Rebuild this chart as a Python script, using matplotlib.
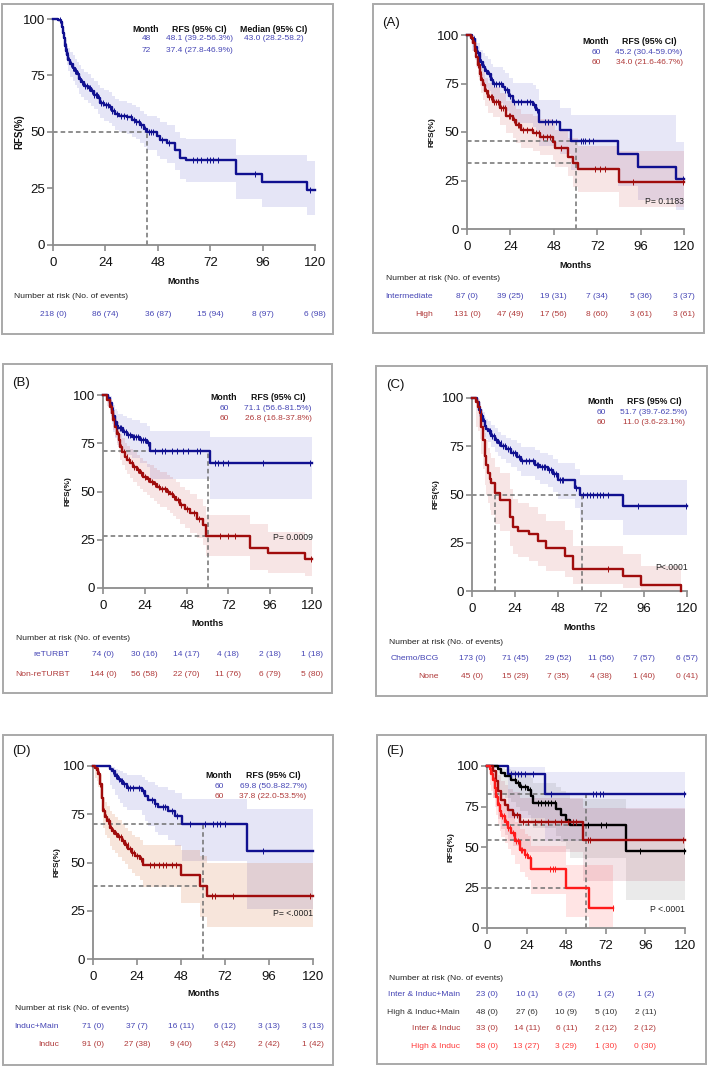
import numpy as np
import matplotlib
matplotlib.use("Agg")
import matplotlib.pyplot as plt
from matplotlib.patches import Rectangle
from matplotlib import transforms

W, H = 709, 1067
plt.rcParams['font.family'] = ['Liberation Sans', 'DejaVu Sans']

MONTH_TICKS = [0, 24, 48, 72, 96, 120]
RFS_TICKS = [0, 25, 50, 75, 100]

# ---------------- Overall ----------------
all_t = [0, 2.5, 3.5, 4.0, 4.5, 5.0, 5.5, 6.0, 6.5, 7.0, 8.0, 9.0, 10.0, 11.0, 12.0, 13.0, 14.0, 16.0, 17.5, 19.0,
         20.5, 21.5, 23.5, 25.5, 27.0, 28.5, 30.0, 34.0, 36.0, 38.0, 40.0, 41.5, 43.0, 47.5, 49.0, 52.0, 56.0, 58.0,
         61.0, 84.0, 95.5, 116.5]
all_s = [100, 99.5, 98.5, 96.5, 94, 91.5, 88, 86, 84, 82, 80, 78.5, 77, 75.5, 73.5, 72, 70.5, 69.5, 68, 66.5,
         65, 63, 62, 61, 59.5, 58, 57, 56.5, 55.5, 54.5, 53, 51.5, 50, 48.1, 46.5, 45, 42, 38.5,
         37.4, 31.2, 27.7, 24.2]
all_lo = [100, 98.5, 96.5, 94, 91, 88, 84, 82, 79.5, 77, 74.5, 72.5, 71, 69.5, 67, 65.5, 64, 63, 61.5, 60,
          58, 56, 55, 54, 52.5, 51, 50, 49, 48, 47, 45, 43.5, 42, 39.2, 38, 36.5, 33, 29,
          27.8, 20.4, 16.7, 13.3]
all_hi = [100, 100, 99.5, 98.5, 97, 95, 92, 90.5, 89, 87, 85.5, 84, 82.5, 81, 79.5, 78, 76.5, 75.5, 74, 72.5,
          71, 69.5, 68.5, 67.5, 66, 64.5, 63.5, 63, 62, 61, 59.5, 58, 57, 56.3, 54.5, 53, 50, 47.5,
          46.9, 39.8, 39.8, 37.3]
all_cens = [3.2, 4.2, 5.2, 5.8, 6.3, 6.8, 7.5, 8.2, 9, 10, 10.5, 11.5, 12.5, 13.5, 14.5, 15.5, 16.5, 17, 18, 19,
            19.5, 20, 21, 22, 23, 24.5, 25, 26, 27, 28, 29.5, 31, 32.5, 34, 35.5, 37, 38, 39.5, 40.5, 42, 44, 45,
            46, 50, 53, 64.3, 65.8, 68, 70.4, 71.9, 73.4, 75.7, 92.5, 117.7]

# ---------------- (A) ----------------
a_int_t = [0, 3, 4.5, 5.5, 7, 8.8, 10, 11.6, 13, 14.4, 19.9, 20.8, 23, 25.4, 36.5, 38, 40, 51.2, 57.7, 83.5, 94.6, 115.8]
a_int_s = [100, 97.7, 94, 90.5, 86, 83.7, 81.5, 80, 77, 75, 73.4, 71.6, 68.5, 65.6, 64, 61.3, 55.3, 51, 45.2, 38.7, 32.2, 25.8]
a_int_lo = [100, 92, 87, 83, 78, 75, 72.5, 71, 67.5, 65, 63, 61, 57.5, 54.5, 52.5, 49.5, 43, 38.5, 30.4, 22, 15, 10]
a_int_hi = [100, 100, 98.5, 96, 92.5, 90.5, 89, 87.5, 85, 83.5, 82, 80.5, 78, 75.5, 74, 72, 66.5, 62.5, 59.0, 58.8, 58.8, 45]
a_int_cens = [4, 6, 7.5, 8, 9.5, 10.5, 12, 14, 15, 16, 17.5, 19, 21, 22, 24, 26, 28, 30, 33, 35, 37, 38.5, 43, 45, 47,
              49, 63, 64.1, 65.5, 67.5, 69.7, 119.5]
a_high_t = [0, 2, 3.3, 4.2, 5.2, 6, 7, 8, 8.8, 10, 11.6, 14.4, 18, 21.8, 25.4, 27.3, 30, 36.5, 40.3, 47.5, 48.5,
            55.8, 58.6, 61.4, 84]
a_high_s = [100, 98.5, 95.7, 92, 88.8, 84.5, 80, 77, 74, 71, 68, 65.6, 62.2, 58, 56, 53.6, 51, 49.3, 47.6, 45, 41.6,
            37.3, 34.0, 30.7, 24.4]
a_high_lo = [100, 95.5, 91.5, 87.5, 83.5, 78.5, 73.5, 70, 66.5, 63.5, 60, 57.5, 53.5, 49.5, 47, 44.5, 42, 40, 38, 35.5,
             32, 27.5, 21.6, 19, 11.5]
a_high_hi = [100, 100, 98.5, 96, 93.5, 90, 86, 83.5, 81, 78, 75.5, 73, 70, 66, 64.5, 62, 59.5, 58, 56.5, 54.5, 51,
             47, 46.7, 43, 40]
a_high_cens = [3, 4, 5, 6, 6.5, 7.5, 8.5, 9.5, 10.5, 12, 13, 14, 15, 16, 17, 19, 20, 21, 23, 24, 26, 28, 29, 31, 33,
               36, 38, 40, 42, 44, 46, 52, 70.6, 73.4, 76.1, 91.8, 119.5]

# ---------------- (B) ----------------
b_re_t = [0, 3, 4, 5, 6, 6.9, 8, 8.8, 11.7, 14, 16.5, 21, 25, 27, 61.4]
b_re_s = [100, 98.5, 96, 92, 89, 86, 84, 82.7, 81, 79.5, 78.4, 76.7, 75, 71.1, 64.6]
b_re_lo = [100, 94, 90, 85, 81, 77.5, 75, 73, 71, 69, 67.5, 65, 62.5, 56.6, 46]
b_re_hi = [100, 100, 99.5, 97, 95, 93, 91.5, 90, 89, 88, 87, 85.5, 84, 81.5, 78.4]
b_re_cens = [5.5, 7, 8, 9.5, 10.5, 12, 13, 14.5, 15.5, 17, 18, 19, 20, 22, 23, 24, 26, 30, 33.7, 35.6, 39.4, 42.3,
             46.1, 49, 53.8, 55.7, 64.3, 66.2, 69.1, 72, 92, 118.8]
b_non_t = [0, 2.5, 4, 5, 5.9, 7, 7.8, 9, 9.8, 11, 12.6, 14, 15.5, 17.5, 19.3, 21, 23.2, 25, 27, 29, 30.8, 33, 36.6,
           38.5, 40.4, 42, 44.2, 47, 50, 53.8, 57.6, 59, 84.2, 94.7, 115.8]
b_non_s = [100, 97.5, 94, 90.5, 87, 83.5, 80, 76.5, 73, 70.5, 68, 66.3, 64.6, 62.8, 61, 59.4, 57.7, 56.3, 55, 53.7,
           52.5, 51.2, 50, 48.7, 47.3, 45.5, 43, 41, 38.7, 36, 32.6, 26.8, 20.7, 18, 15]
b_non_lo = [100, 94.5, 90, 86, 82, 78, 74, 70, 66.5, 63.5, 61, 59, 57, 55, 53, 51.5, 49.5, 48, 46.5, 45, 43.5, 42,
            40.5, 39, 37.5, 35.5, 33, 31, 28.5, 26, 22.5, 16.8, 9.5, 8, 6.4]
b_non_hi = [100, 99.5, 97.5, 95, 92, 89, 86, 83, 80, 77.5, 75, 73.5, 72, 70.5, 69, 67.5, 66, 64.5, 63.5, 62, 61,
            60, 58.5, 57.5, 56.5, 55, 52.5, 51, 48.5, 46, 42.5, 37.8, 33, 29, 25]
b_non_cens = [4.5, 5.5, 6.5, 8.5, 10.5, 12, 13.5, 15, 16.5, 18, 20, 22, 24, 26, 28, 30, 32, 34, 35.5, 37.5, 39.5,
              41, 43, 45, 48, 52, 55, 67, 72, 76, 119.5]

# ---------------- (C) ----------------
c_chemo_t = [0, 3, 4, 5.2, 6, 7, 8, 8.9, 10.5, 12.7, 14.5, 16.4, 19, 22, 25, 27.5, 35, 38, 42.4, 45, 48, 57.3,
             60.5, 84.3]
c_chemo_s = [100, 98, 94, 90.5, 88, 85.3, 84, 82.7, 80.5, 78.4, 76.5, 75, 73.5, 71.5, 69.5, 67.2, 65.5, 64, 62.9,
             60.5, 57.7, 53.4, 49.5, 43.9]
c_chemo_lo = [100, 95, 90, 86, 83, 80, 78.5, 77, 74.5, 72, 70, 68.5, 66.5, 64.5, 62, 59.5, 57.5, 55.5, 54, 51.5,
              47.5, 43, 37, 28.8]
c_chemo_hi = [100, 100, 97, 94.5, 92.5, 90, 89, 88, 86, 84.5, 82.5, 81, 79.5, 78, 76.5, 74.5, 73, 71.5, 70.5,
              68.5, 66.5, 63, 60, 57.6]
c_chemo_cens = [4.5, 5.5, 6.5, 7.5, 9.5, 10, 11, 12, 13.5, 15, 16, 17.5, 18.5, 20, 21, 23, 24, 26, 28, 30, 32,
                34, 36, 37, 39, 40, 41, 43, 44, 46, 47, 49, 50, 51, 58, 62, 64, 65.8, 67.7, 69.5, 71.4, 73.3, 76,
                92.6, 119.6]
c_none_t = [0, 2.4, 3.4, 4.3, 5.2, 6, 7, 8, 8.9, 10, 10.8, 12.7, 15.4, 21, 22.9, 25.7, 32, 36.8, 41.5, 51.7,
            56.4, 84.3, 94.5, 116.8]
c_none_s = [100, 97.8, 95.5, 92, 85, 78, 70, 65.5, 61, 58, 55.7, 50.6, 47, 38.3, 33, 31.3, 29.5, 26, 22.5, 18.1,
            11.2, 7.8, 3.3, 0]
c_none_lo = [100, 85, 83, 79, 71, 63, 55, 50, 45.5, 42, 39.5, 34.5, 31, 23.5, 19, 17.5, 15.5, 13, 10.5, 7, 3.6,
             1.5, 0, 0]
c_none_hi = [100, 100, 99.5, 98, 93, 88, 82, 78, 74, 71.5, 69, 64.5, 61, 53, 47.5, 45.5, 43.5, 40, 36.5, 31.5,
             23.1, 19, 13, 0]
c_none_cens = [3, 4.8, 75.9]

# ---------------- (D) ----------------
d_im_t = [0, 9.3, 10.2, 12, 13.5, 14.7, 16.5, 18.4, 26.5, 28.4, 30.2, 33.8, 35.6, 41, 44.7, 48.4, 83.8]
d_im_s = [100, 98.6, 97.2, 94.8, 93.5, 92.2, 90.5, 88.8, 87, 84.6, 82.5, 80.2, 78.8, 76.5, 74, 69.8, 56]
d_im_lo = [100, 90, 88, 85, 83, 81, 79, 77, 74.5, 71.5, 69, 66, 64.5, 61.5, 58.5, 50.8, 25.7]
d_im_hi = [100, 99.8, 99.5, 98.5, 98, 97.5, 96.5, 95.5, 94.5, 93, 91.5, 90, 89, 87.5, 86, 82.7, 77.9]
d_im_cens = [11, 12.5, 13.2, 14, 15.5, 16, 17, 19, 20, 22, 25, 27, 32, 34, 38, 39, 43, 46, 52.9, 61, 65.6, 67.5,
             69.3, 72, 92.5]
d_ind_t = [0, 1, 2, 2.9, 3.8, 4.7, 5.6, 6.5, 7.5, 9.3, 10.5, 12, 13.5, 15.6, 17.5, 19.3, 21, 22.9, 25.6, 27.5,
           47.8, 58.4, 62]
d_ind_s = [100, 98.9, 97.8, 95.7, 90.5, 83.6, 76.7, 73.5, 71.5, 68, 66.3, 64.6, 63, 61, 59, 56.8, 55, 53.3,
           51.6, 48.5, 43.3, 37.8, 32.4]
d_ind_lo = [100, 94, 92, 89, 83, 75.5, 68, 64.5, 62.5, 58.5, 56.5, 55, 53, 51, 49, 46.5, 44.5, 43, 41, 37.5, 29,
            22.0, 16.8]
d_ind_hi = [100, 100, 99.5, 98.5, 95.5, 90, 84, 81.5, 79.5, 76.5, 75, 73.5, 72, 70, 68, 66.5, 64.5, 63, 61.5,
            59, 56.5, 53.5, 49.8]
d_ind_cens = [2.5, 3.2, 4, 5, 6, 7, 8, 8.5, 10, 11, 12.5, 14, 15, 16.5, 18, 19, 20, 21.5, 22.5, 24, 26, 31, 33,
              36, 38, 40, 43, 45, 64.7, 66.5, 76.5, 118.4]

# ---------------- (E) ----------------
e_iim_t = [0, 12.7, 35]
e_iim_s = [100, 94.9, 82.6]
e_iim_lo = [100, 68, 54]
e_iim_hi = [100, 99.3, 96]
e_iim_cens = [14.7, 16.8, 18.8, 20.8, 22.8, 27.9, 39, 64.2, 66.3, 68.3, 70.3, 119.5]
e_him_t = [0, 6.7, 8.7, 10.7, 14.7, 17.8, 19.8, 24.8, 26.9, 27.9, 42, 45, 48, 50, 84.4]
e_him_s = [100, 97.9, 95.8, 93.6, 91.5, 89.4, 87.2, 85.1, 81.5, 77.4, 73.3, 70, 66.5, 63.8, 47.8]
e_him_lo = [100, 86, 83, 80, 77.5, 75, 72.5, 70, 66, 61.5, 57, 53, 49, 43, 17]
e_him_hi = [100, 99.7, 99, 98.3, 97.5, 96.5, 95.5, 94.5, 92.5, 89.5, 87, 84.5, 82, 79.5, 73.6]
e_him_cens = [16.8, 18.8, 20.8, 22.8, 25.9, 30.9, 33, 35, 37, 39, 41, 61.2, 69.3, 72.3, 92.5, 119.5]
e_ii_t = [0, 3.6, 5.7, 6.7, 8.7, 10.7, 12.7, 15.8, 19.8, 58.2]
e_ii_s = [100, 97, 90.9, 84.8, 78.8, 75.8, 72.7, 69.7, 65.4, 54.3]
e_ii_lo = [100, 80, 75, 67.5, 61, 57.5, 54, 50.5, 47, 29]
e_ii_hi = [100, 99.6, 97.5, 94.5, 90.5, 88.5, 86, 84, 80.5, 74]
e_ii_cens = [16.4, 18.4, 22, 25, 29, 33, 37, 41, 45, 49, 52, 54, 61.2, 62.2, 118.8]
e_hi_t = [0, 1.6, 2.6, 3.6, 4.6, 5.7, 6.7, 7.7, 8.7, 10.7, 12.7, 14.7, 16.8, 19.8, 22.8, 24.8, 26.9, 47.7, 61.8]
e_hi_s = [100, 98.3, 94.8, 91.4, 86.2, 81, 76, 72.4, 69, 65.5, 62, 58.6, 53.4, 48.3, 45.3, 43.4, 36.5, 24.6, 12.3]
e_hi_lo = [100, 88.5, 84.5, 80.5, 75, 69.5, 64, 60, 56, 52.5, 48.5, 45, 39.5, 34.5, 31.5, 29.5, 21, 7, 0.8]
e_hi_hi = [100, 99.8, 98.5, 96.5, 93, 89.5, 85.5, 82.5, 79.5, 76.5, 73, 70, 65.5, 61, 58, 56.5, 50.5, 38.8, 38.8]
e_hi_cens = [2, 3, 4, 5, 6, 7, 8, 9, 10, 11.5, 13, 14, 15.5, 17.5, 18.5, 20.5, 21.5, 23, 24, 26, 38, 40, 41, 76.4]

# ---------------- number-at-risk tables ----------------
all_risk = ['218 (0)', '86 (74)', '36 (87)', '15 (94)', '8 (97)', '6 (98)']
a_groups = ['Intermediate', 'High']
a_risk = [['87 (0)', '39 (25)', '19 (31)', '7 (34)', '5 (36)', '3 (37)'],
          ['131 (0)', '47 (49)', '17 (56)', '8 (60)', '3 (61)', '3 (61)']]
b_groups = ['reTURBT', 'Non-reTURBT']
b_risk = [['74 (0)', '30 (16)', '14 (17)', '4 (18)', '2 (18)', '1 (18)'],
          ['144 (0)', '56 (58)', '22 (70)', '11 (76)', '6 (79)', '5 (80)']]
c_groups = ['Chemo/BCG', 'None']
c_risk = [['173 (0)', '71 (45)', '29 (52)', '11 (56)', '7 (57)', '6 (57)'],
          ['45 (0)', '15 (29)', '7 (35)', '4 (38)', '1 (40)', '0 (41)']]
d_groups = ['Induc+Main', 'Induc']
d_risk = [['71 (0)', '37 (7)', '16 (11)', '6 (12)', '3 (13)', '3 (13)'],
          ['91 (0)', '27 (38)', '9 (40)', '3 (42)', '2 (42)', '1 (42)']]
e_groups = ['Inter & Induc+Main', 'High & Induc+Main', 'Inter & Induc', 'High & Induc']
e_risk = [['23 (0)', '10 (1)', '6 (2)', '1 (2)', '1 (2)'],
          ['48 (0)', '27 (6)', '10 (9)', '5 (10)', '2 (11)'],
          ['33 (0)', '14 (11)', '6 (11)', '2 (12)', '2 (12)'],
          ['58 (0)', '13 (27)', '3 (29)', '1 (30)', '0 (30)']]

# ---------------- summary tables ----------------
all_stats = [['48', '48.1 (39.2-56.3%)', '43.0 (28.2-58.2)'], ['72', '37.4 (27.8-46.9%)', '']]
a_stats = [['60', '45.2 (30.4-59.0%)'], ['60', '34.0 (21.6-46.7%)']]
b_stats = [['60', '71.1 (56.6-81.5%)'], ['60', '26.8 (16.8-37.8%)']]
c_stats = [['60', '51.7 (39.7-62.5%)'], ['60', '11.0 (3.6-23.1%)']]
d_stats = [['60', '69.8 (50.8-82.7%)'], ['60', '37.8 (22.0-53.5%)']]

# ---------------- colours ----------------
BLUE = '#101090'
RED = '#a00c0c'
BRED = '#ff1a1a'
BLACK = '#000000'
TBLUE = '#4545b5'
TRED = '#b03a3a'
TBRED = '#ff3b3b'
TBLACK = '#333333'
GRID = '#8c8c8c'

fig = plt.figure(figsize=(W / 100, H / 100), dpi=100)


def fx(x):
    return x / W


def fy(y):
    return 1 - y / H


def ftext(x, y, s, **kw):
    kw.setdefault('va', 'center')
    fig.text(fx(x), fy(y), s, **kw)


def box(x0, y0, x1, y1):
    fig.patches.append(Rectangle((fx(x0), fy(y1)), (x1 - x0) / W, (y1 - y0) / H,
                                 transform=fig.transFigure, fill=False, ec='#a9a9a9', lw=1.4))


def make_ax(x0, y0, x1, y1, ylab_x, months_y, ylab_size=6):
    ax = fig.add_axes([fx(x0), fy(y1), (x1 - x0) / W, (y1 - y0) / H])
    ax.set_xlim(0, 120)
    ax.set_ylim(0, 100)
    ax.set_xticks(MONTH_TICKS)
    ax.set_yticks(RFS_TICKS)
    for side in ['top', 'right']:
        ax.spines[side].set_visible(False)
    for side in ['left', 'bottom']:
        ax.spines[side].set_color(GRID)
        ax.spines[side].set_linewidth(1.3)
    ax.tick_params(axis='both', colors=GRID, labelcolor='#111111', length=4, width=1.2, labelsize=9.5)
    ax.tick_params(axis='x', pad=4.5)
    ax.tick_params(axis='y', pad=1.5)
    ax.patch.set_alpha(0)
    ftext(ylab_x, (y0 + y1) / 2, 'RFS(%)', rotation=90, ha='center', fontsize=ylab_size,
          fontweight='bold', color='#111111')
    ftext((x0 + x1) / 2, months_y, 'Months', ha='center', fontsize=6.5, fontweight='bold', color='#111111')
    return ax


def km(ax, t, s, lo, hi, cens, color, band, alpha, end=120):
    tt = np.array(list(t) + [end])
    ss = np.array(list(s) + [s[-1]])
    ll = np.array(list(lo) + [lo[-1]])
    hh = np.array(list(hi) + [hi[-1]])
    ax.fill_between(tt, ll, hh, step='post', color=band, alpha=alpha, lw=0, zorder=1)
    ax.step(tt, ss, where='post', color=color, lw=1.7, clip_on=False, zorder=4)
    c = np.array(cens)
    idx = np.searchsorted(np.array(t), c, side='right') - 1
    cy = np.array(s)[idx]
    ax.plot(c, cy, ls='none', marker='|', ms=4.5, mew=0.7, color=color, clip_on=False, zorder=5)


def dashes(ax, hlines, xend, vlines):
    for y in hlines:
        ax.plot([0, xend], [y, y], color='#707070', lw=1.1, ls=(0, (3, 2)), zorder=2)
    for x, ytop in vlines:
        ax.plot([x, x], [0, ytop], color='#707070', lw=1.1, ls=(0, (3, 2)), zorder=2)


def risk(ax, title_xy, rows_y, labels, label_right, values, colors, xs=MONTH_TICKS):
    ftext(title_xy[0], title_xy[1], 'Number at risk (No. of events)', ha='left', fontsize=6.1, color='#222222')
    tr = transforms.blended_transform_factory(ax.transData, fig.transFigure)
    for i, y in enumerate(rows_y):
        if labels is not None:
            ftext(label_right, y, labels[i], ha='right', fontsize=6.1, color=colors[i])
        for x, v in zip(xs, values[i]):
            ax.text(x, fy(y), v, transform=tr, ha='center', va='center', fontsize=6, color=colors[i])


def stats(cols_x, head_y, row_ys, headers, rows, colors):
    for x, h in zip(cols_x, headers):
        ftext(x, head_y, h, ha='center', fontsize=6.3, fontweight='bold', color='#111111')
    for y, row, c in zip(row_ys, rows, colors):
        for x, v in zip(cols_x, row):
            ftext(x, y, v, ha='center', fontsize=6, color=c)


# ---------- boxes ----------
box(2, 4, 333, 334)
box(373, 4, 704, 333)
box(3, 364, 332, 693)
box(376, 366, 707, 696)
box(3, 735, 333, 1065)
box(377, 735, 706, 1064)

BB = '#3a3ac0'
RB = '#c03030'

# ---------- overall ----------
ax0 = make_ax(53, 19, 315, 245, 19, 281, ylab_size=7)
dashes(ax0, [50], 43, [(43, 50)])
km(ax0, all_t, all_s, all_lo, all_hi, all_cens, BLUE, BB, 0.13)
stats([146, 199, 274], 29, [39, 50], ['Month', 'RFS (95% CI)', 'Median (95% CI)'], all_stats, [TBLUE, TBLUE])
risk(ax0, (14, 296), [314], None, None, [all_risk], [TBLUE])

# ---------- (A) ----------
axA = make_ax(467, 35, 684, 229, 432, 265)
dashes(axA, [45.2, 34.0], 60, [(60, 45.2)])
km(axA, a_int_t, a_int_s, a_int_lo, a_int_hi, a_int_cens, BLUE, BB, 0.12)
km(axA, a_high_t, a_high_s, a_high_lo, a_high_hi, a_high_cens, RED, RB, 0.12)
stats([596, 649], 42, [52, 63], ['Month', 'RFS (95% CI)'], a_stats, [TBLUE, TRED])
ftext(684, 201, 'P= 0.1183', ha='right', fontsize=6.2, color='#222222')
ftext(382, 23, '(A)', ha='left', fontsize=9.5, color='#111111')
risk(axA, (386, 279), [296, 314], a_groups, 433, a_risk, [TBLUE, TRED])

# ---------- (B) ----------
axB = make_ax(103, 395, 312, 588, 68, 624)
dashes(axB, [71.1, 26.8], 60, [(60, 71.1)])
km(axB, b_re_t, b_re_s, b_re_lo, b_re_hi, b_re_cens, BLUE, BB, 0.12)
km(axB, b_non_t, b_non_s, b_non_lo, b_non_hi, b_non_cens, RED, RB, 0.12)
stats([224, 278], 398, [408, 419], ['Month', 'RFS (95% CI)'], b_stats, [TBLUE, TRED])
ftext(313, 537, 'P= 0.0009', ha='right', fontsize=6.2, color='#222222')
ftext(12, 383, '(B)', ha='left', fontsize=9.5, color='#111111')
risk(axB, (16, 638), [655, 674], b_groups, 70, b_risk, [TBLUE, TRED])

# ---------- (C) ----------
axC = make_ax(472, 398, 687, 591, 436, 627)
dashes(axC, [50], 61.4, [(12.8, 50), (61.4, 50)])
km(axC, c_chemo_t, c_chemo_s, c_chemo_lo, c_chemo_hi, c_chemo_cens, BLUE, BB, 0.12)
km(axC, c_none_t, c_none_s, c_none_lo, c_none_hi, c_none_cens, RED, RB, 0.12, end=116.8)
stats([601, 654], 401, [412, 423], ['Month', 'RFS (95% CI)'], c_stats, [TBLUE, TRED])
ftext(688, 568, 'P<.0001', ha='right', fontsize=6.2, color='#222222')
ftext(386, 385, '(C)', ha='left', fontsize=9.5, color='#111111')
risk(axC, (389, 642), [658, 677], c_groups, 439, c_risk, [TBLUE, TRED])

# ---------- (D) ----------
axD = make_ax(93, 766, 313, 959, 57, 994)
dashes(axD, [69.8, 37.8], 60, [(60, 69.8)])
km(axD, d_im_t, d_im_s, d_im_lo, d_im_hi, d_im_cens, BLUE, BB, 0.13)
km(axD, d_ind_t, d_ind_s, d_ind_lo, d_ind_hi, d_ind_cens, RED, '#d0682a', 0.17)
stats([219, 273], 775, [787, 797], ['Month', 'RFS (95% CI)'], d_stats, [TBLUE, TRED])
ftext(313, 913, 'P= <.0001', ha='right', fontsize=6.2, color='#222222')
ftext(12, 751, '(D)', ha='left', fontsize=9.5, color='#111111')
risk(axD, (15, 1009), [1027, 1044], d_groups, 59, d_risk, [TBLUE, TRED])

# ---------- (E) ----------
axE = make_ax(487, 766, 685, 928, 451, 964)
dashes(axE, [82.6, 63.8, 54.3, 24.6], 60, [(60, 82.6)])
km(axE, e_iim_t, e_iim_s, e_iim_lo, e_iim_hi, e_iim_cens, BLUE, BB, 0.11)
km(axE, e_him_t, e_him_s, e_him_lo, e_him_hi, e_him_cens, BLACK, '#606060', 0.13)
km(axE, e_ii_t, e_ii_s, e_ii_lo, e_ii_hi, e_ii_cens, RED, '#a02040', 0.12)
km(axE, e_hi_t, e_hi_s, e_hi_lo, e_hi_hi, e_hi_cens, BRED, '#ff3030', 0.13, end=76.4)
ftext(685, 910, 'P <.0001', ha='right', fontsize=6.2, color='#222222')
ftext(386, 751, '(E)', ha='left', fontsize=9.5, color='#111111')
risk(axE, (389, 978), [995, 1012, 1029, 1047], e_groups, 460, e_risk, [TBLUE, TBLACK, TRED, TBRED],
     xs=MONTH_TICKS[:5])

fig.savefig('out.png', dpi=100)
